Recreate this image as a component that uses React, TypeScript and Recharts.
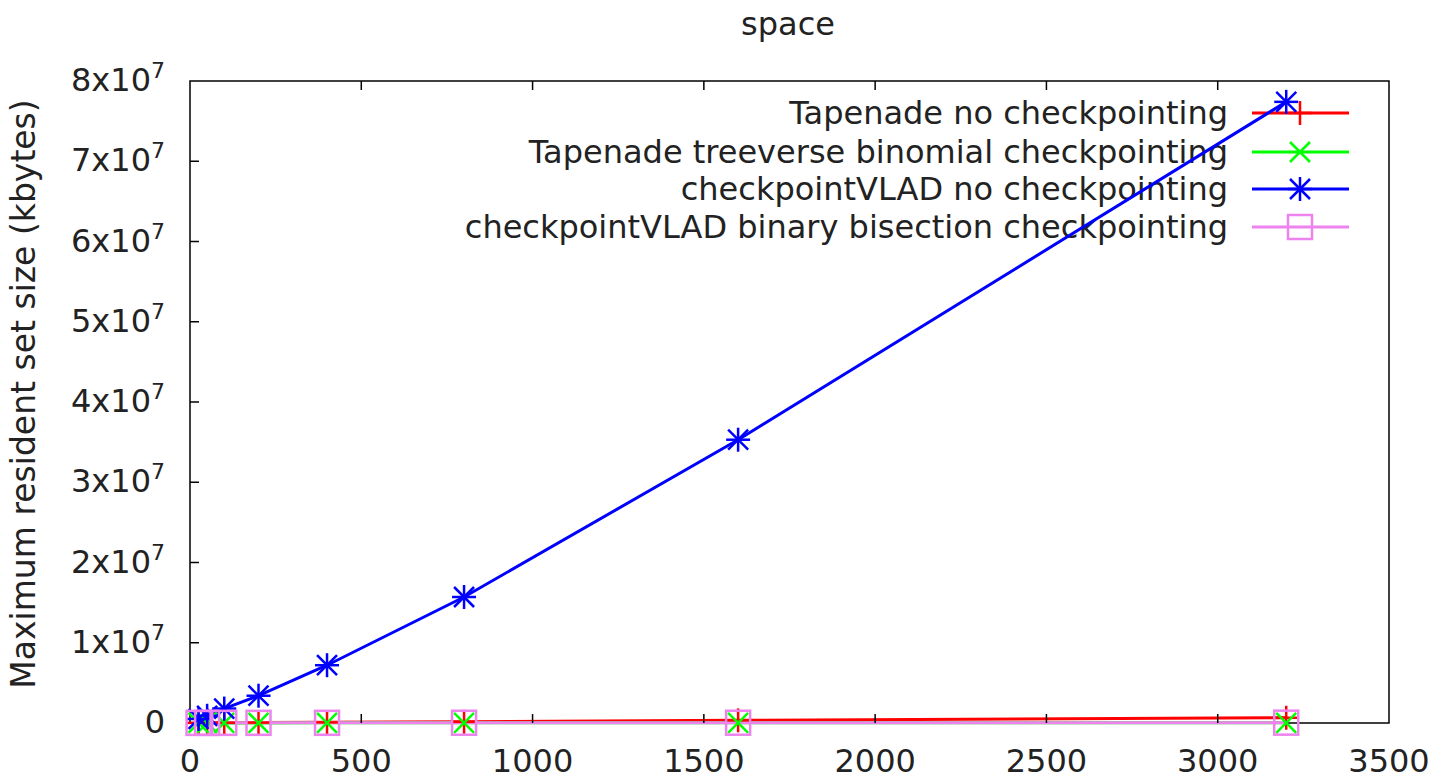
import { LineChart, Line, XAxis, YAxis, Customized } from "recharts"

const sizes = [25, 50, 100, 200, 400, 800, 1600, 3200]
const tapenadeNo = [20000, 25000, 35000, 50000, 80000, 150000, 330000, 650000]
const tapenadeBinomial = [10000, 10000, 12000, 14000, 16000, 18000, 22000, 28000]
const vladNo = [500000, 900000, 1800000, 3400000, 7200000, 15700000, 35300000, 77400000]
const vladBisection = [15000, 15000, 18000, 20000, 24000, 28000, 34000, 42000]
const xTicks = [0, 500, 1000, 1500, 2000, 2500, 3000, 3500]
const yTicks = [0, 1e7, 2e7, 3e7, 4e7, 5e7, 6e7, 7e7, 8e7]

const seriesNames = [
  "Tapenade no checkpointing",
  "Tapenade treeverse binomial checkpointing",
  "checkpointVLAD no checkpointing",
  "checkpointVLAD binary bisection checkpointing",
]
const colors = ["#ff0000", "#00ff00", "#0000ff", "#ee82ee"]

const data = sizes.map((x, i) => ({
  x,
  tapNo: tapenadeNo[i],
  tapBin: tapenadeBinomial[i],
  vladNo: vladNo[i],
  vladBis: vladBisection[i],
}))

const W = 1456
const H = 783
const FONT = "DejaVu Sans, sans-serif"
const FS = 32
const TXT = "#222"
const TICK = 9
const PLOT_L = 190
const PLOT_T = 81
const PLOT_H = 642
const PLOT_W = 1199

function Marker({ kind, cx, cy, color }: { kind: number; cx: number; cy: number; color: string }) {
  const sw = 2.5
  if (kind === 0) {
    const s = 12
    return (
      <g stroke={color} strokeWidth={sw}>
        <line x1={cx - s} y1={cy} x2={cx + s} y2={cy} />
        <line x1={cx} y1={cy - s} x2={cx} y2={cy + s} />
      </g>
    )
  }
  if (kind === 1) {
    const s = 10
    return (
      <g stroke={color} strokeWidth={sw}>
        <line x1={cx - s} y1={cy - s} x2={cx + s} y2={cy + s} />
        <line x1={cx - s} y1={cy + s} x2={cx + s} y2={cy - s} />
      </g>
    )
  }
  if (kind === 2) {
    const s = 12
    const d = 10
    return (
      <g stroke={color} strokeWidth={sw}>
        <line x1={cx - s} y1={cy} x2={cx + s} y2={cy} />
        <line x1={cx} y1={cy - s} x2={cx} y2={cy + s} />
        <line x1={cx - d} y1={cy - d} x2={cx + d} y2={cy + d} />
        <line x1={cx - d} y1={cy + d} x2={cx + d} y2={cy - d} />
      </g>
    )
  }
  const s = 12
  return <rect x={cx - s} y={cy - s} width={2 * s} height={2 * s} fill="none" stroke={color} strokeWidth={sw} />
}

const dotFor = (kind: number) => (p: any) => (
  <Marker key={`m${kind}-${p.index}`} kind={kind} cx={p.cx} cy={p.cy} color={colors[kind]} />
)

function XTickBottom(props: any) {
  const { x, payload } = props
  const y = PLOT_T + PLOT_H
  return (
    <g>
      {payload.value !== 0 && payload.value !== 3500 && (
        <line x1={x} y1={y} x2={x} y2={y - TICK} stroke="#000" strokeWidth={1.5} />
      )}
      <text x={x} y={y + 49} textAnchor="middle" fontSize={FS} fontFamily={FONT} fill={TXT}>
        {payload.value}
      </text>
    </g>
  )
}

function XTickTop(props: any) {
  const { x, payload } = props
  const y = PLOT_T
  if (payload.value === 0 || payload.value === 3500) return <g />
  return <line x1={x} y1={y} x2={x} y2={y + TICK} stroke="#000" strokeWidth={1.5} />
}

function YTickLeft(props: any) {
  const { y, payload } = props
  const x = PLOT_L
  const v = payload.value
  const m = Math.round(v / 1e7)
  return (
    <g>
      {v !== 0 && v !== 8e7 && <line x1={x} y1={y} x2={x + TICK} y2={y} stroke="#000" strokeWidth={1.5} />}
      <text x={x - 25} y={y + 10} textAnchor="end" fontSize={FS} fontFamily={FONT} fill={TXT}>
        {v === 0 ? (
          "0"
        ) : (
          <>
            <tspan>{`${m}x10`}</tspan>
            <tspan dy={-13} fontSize={22}>7</tspan>
          </>
        )}
      </text>
    </g>
  )
}

function YTickRight(props: any) {
  const { y, payload } = props
  const x = PLOT_L + PLOT_W
  const v = payload.value
  if (v === 0 || v === 8e7) return <g />
  return <line x1={x} y1={y} x2={x - TICK} y2={y} stroke="#000" strokeWidth={1.5} />
}

function Decorations() {
  const rows = [113, 152, 189, 227]
  return (
    <g>
      <rect x={PLOT_L} y={PLOT_T} width={PLOT_W} height={PLOT_H} fill="none" stroke="#000" strokeWidth={1.5} />
      <text x={788} y={35} textAnchor="middle" fontSize={FS} fontFamily={FONT} fill={TXT}>
        space
      </text>
      <text transform="translate(35,394) rotate(-90)" textAnchor="middle" fontSize={33} fontFamily={FONT} fill={TXT}>
        Maximum resident set size (kbytes)
      </text>
      {seriesNames.map((name, i) => (
        <g key={name}>
          <text x={1228} y={rows[i] + 11} textAnchor="end" fontSize={FS} fontFamily={FONT} fill={TXT}>
            {name}
          </text>
          <line x1={1252} y1={rows[i]} x2={1349} y2={rows[i]} stroke={colors[i]} strokeWidth={3} />
          <Marker kind={i} cx={1300} cy={rows[i]} color={colors[i]} />
        </g>
      ))}
    </g>
  )
}

export default function App() {
  return (
    <div style={{ width: W, height: H, margin: -8 }}>
      <LineChart
        width={W}
        height={H}
        data={data}
        margin={{ top: PLOT_T - 1, right: W - PLOT_L - PLOT_W - 1, bottom: H - PLOT_T - PLOT_H - 1, left: PLOT_L - 1 }}
      >
        <XAxis
          xAxisId="b"
          type="number"
          dataKey="x"
          domain={[0, 3500]}
          ticks={xTicks}
          interval={0}
          height={1}
          tickSize={0}
          tickMargin={0}
          tickLine={false}
          axisLine={false}
          tick={<XTickBottom />}
        />
        <XAxis
          xAxisId="t"
          orientation="top"
          type="number"
          dataKey="x"
          domain={[0, 3500]}
          ticks={xTicks}
          interval={0}
          height={1}
          tickSize={0}
          tickMargin={0}
          tickLine={false}
          axisLine={false}
          tick={<XTickTop />}
        />
        <YAxis
          yAxisId="l"
          type="number"
          domain={[0, 8e7]}
          ticks={yTicks}
          interval={0}
          width={1}
          tickSize={0}
          tickMargin={0}
          tickLine={false}
          axisLine={false}
          tick={<YTickLeft />}
        />
        <YAxis
          yAxisId="r"
          orientation="right"
          type="number"
          domain={[0, 8e7]}
          ticks={yTicks}
          interval={0}
          width={1}
          tickSize={0}
          tickMargin={0}
          tickLine={false}
          axisLine={false}
          tick={<YTickRight />}
        />
        <Line xAxisId="b" yAxisId="l" dataKey="tapNo" stroke={colors[0]} strokeWidth={3} dot={dotFor(0)} isAnimationActive={false} />
        <Line xAxisId="b" yAxisId="l" dataKey="tapBin" stroke={colors[1]} strokeWidth={3} dot={dotFor(1)} isAnimationActive={false} />
        <Line xAxisId="b" yAxisId="l" dataKey="vladNo" stroke={colors[2]} strokeWidth={3} dot={dotFor(2)} isAnimationActive={false} />
        <Line xAxisId="b" yAxisId="l" dataKey="vladBis" stroke={colors[3]} strokeWidth={3} dot={dotFor(3)} isAnimationActive={false} />
        <Customized component={Decorations} />
      </LineChart>
    </div>
  )
}
